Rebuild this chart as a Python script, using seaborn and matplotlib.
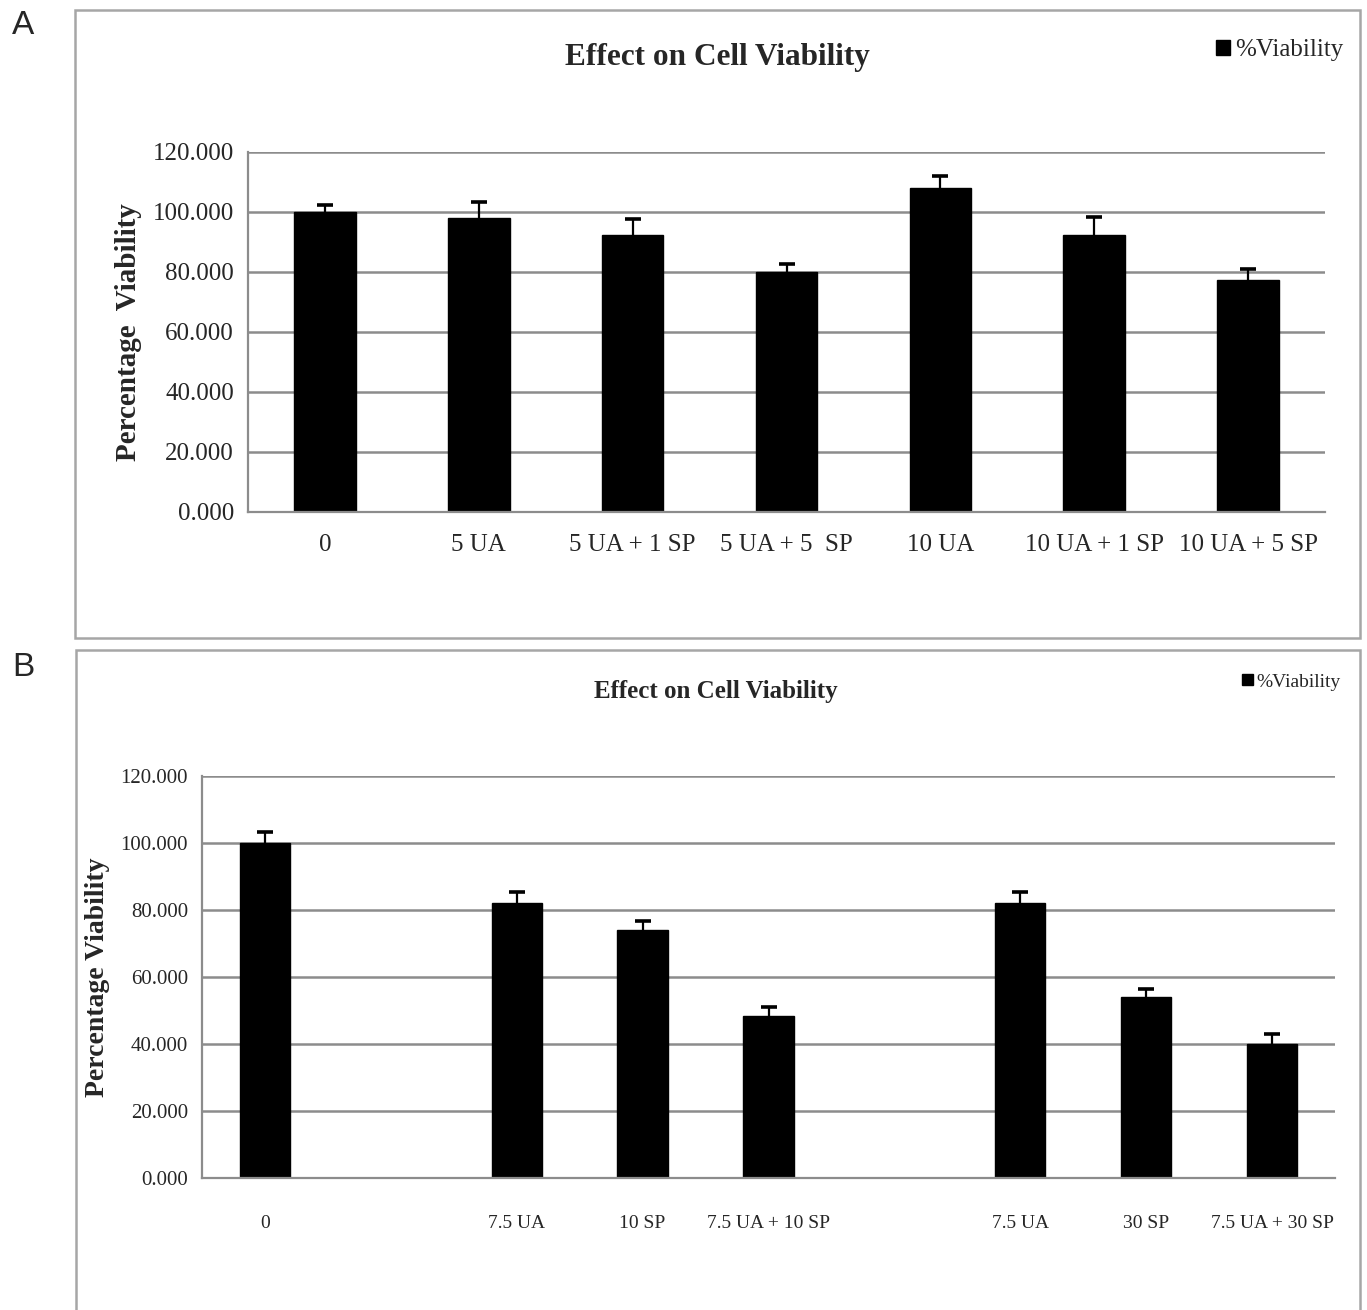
import numpy as np
import pandas as pd
import matplotlib
matplotlib.use("Agg")
import matplotlib.pyplot as plt
from matplotlib.patches import Rectangle, Patch
import seaborn as sns

# Panel A: ursolic acid (UA) and SP combinations
labels_a = ["0", "5 UA", "5 UA + 1 SP", "5 UA + 5  SP", "10 UA", "10 UA + 1 SP", "10 UA + 5 SP"]
viability_a = [100.0, 98.0, 92.3, 79.9, 108.1, 92.3, 77.3]
err_a = [2.5, 5.3, 5.3, 2.7, 3.9, 6.0, 3.8]

# Panel B: 7.5 UA with 10 SP and 30 SP (empty slots separate the groups)
labels_b = ["0", "", "7.5 UA", "10 SP", "7.5 UA + 10 SP", "", "7.5 UA", "30 SP", "7.5 UA + 30 SP"]
viability_b = [100.1, np.nan, 82.2, 74.0, 48.4, np.nan, 82.2, 53.9, 40.0]
err_b = [3.3, 0.0, 3.2, 2.7, 2.6, 0.0, 3.1, 2.5, 3.0]

y_ticks = [0, 20, 40, 60, 80, 100, 120]

sns.set_theme(style="white")
plt.rcParams["font.family"] = ["Liberation Serif", "DejaVu Serif"]

W, H = 1367, 1310
fig = plt.figure(figsize=(W / 100, H / 100), dpi=100)


def fx(px):
    return px / W


def fy(py):
    return 1 - py / H


def draw_panel(rect, labels, values, errs, sizes, ylabel, xpad):
    tick_fs, xlab_fs, ylab_fs = sizes
    ax = fig.add_axes(rect)
    n = len(labels)
    df = pd.DataFrame({"pos": list(range(n)), "value": values})
    sns.barplot(data=df, x="pos", y="value", order=list(range(n)), color="black",
                saturation=1, width=0.4, errorbar=None, ax=ax)
    for p in ax.patches:
        p.set_edgecolor("black")
    ok = [i for i in range(n) if not np.isnan(values[i])]
    # plus-only error bars: cap on top, none at the bar edge
    _, caps, _ = ax.errorbar(ok, [values[i] for i in ok],
                             yerr=[[0] * len(ok), [errs[i] for i in ok]],
                             fmt="none", ecolor="black", elinewidth=1.6, capsize=6,
                             capthick=2.6, zorder=5)
    caps[0].set_visible(False)
    ax.set_ylim(0, 120)
    ax.set_xlim(-0.5, n - 0.5)
    ax.set_yticks(y_ticks)
    ax.set_yticklabels([f"{v:.3f}" for v in y_ticks], fontsize=tick_fs)
    ax.set_xticks(range(n))
    ax.set_xticklabels(labels, fontsize=xlab_fs)
    ax.set_xticks(np.arange(-0.5, n, 1.0), minor=True)
    ax.tick_params(axis="x", which="major", length=0, pad=xpad)
    ax.tick_params(axis="x", which="minor", length=7, width=1.3, color="#8c8c8c", direction="out")
    ax.tick_params(axis="y", length=6, width=1.3, color="#8c8c8c", direction="out", pad=4)
    ax.set_xlabel("")
    ax.set_ylabel(ylabel, fontsize=ylab_fs, fontweight="bold", labelpad=8)
    ax.yaxis.grid(True, color="#8c8c8c", linewidth=1.8)
    ax.set_axisbelow(True)
    for side in ("top", "right"):
        ax.spines[side].set_visible(False)
    for side in ("left", "bottom"):
        ax.spines[side].set_color("#8c8c8c")
        ax.spines[side].set_linewidth(1.6)
    return ax


# Panel frames
fig.patches.append(Rectangle((fx(75), fy(638)), fx(1360) - fx(75), fy(10) - fy(638),
                             transform=fig.transFigure, fill=False, edgecolor="#a6a6a6", linewidth=1.8))
fig.patches.append(Rectangle((fx(76), fy(1320)), fx(1360) - fx(76), fy(650) - fy(1320),
                             transform=fig.transFigure, fill=False, edgecolor="#a6a6a6", linewidth=1.8))

ax_a = draw_panel([fx(248), fy(512), fx(1325) - fx(248), fy(152) - fy(512)],
                  labels_a, viability_a, err_a, (18, 18, 21), "Percentage  Viability", 16)
ax_b = draw_panel([fx(202), fy(1178), fx(1335) - fx(202), fy(776) - fy(1178)],
                  labels_b, viability_b, err_b, (15, 14, 20), "Percentage Viability", 27)

fig.text(fx(717), fy(58), "Effect on Cell Viability", ha="center", va="center",
         fontsize=22.5, fontweight="bold")
fig.text(fx(716), fy(692), "Effect on Cell Viability", ha="center", va="center",
         fontsize=18, fontweight="bold")

for px, py, fs in ((1216, 50, 18), (1242, 682, 14)):
    fig.legend(handles=[Patch(facecolor="black", edgecolor="black")], labels=["%Viability"],
               loc="center left", bbox_to_anchor=(fx(px), fy(py)), frameon=False,
               fontsize=fs, handlelength=0.55, handleheight=0.55, handletextpad=0.2,
               borderpad=0, borderaxespad=0)

fig.text(fx(12), fy(25), "A", ha="left", va="center", fontsize=24, family="Liberation Sans")
fig.text(fx(12), fy(668), "B", ha="left", va="center", fontsize=24, family="Liberation Sans")

fig.savefig("out.png", dpi=100, facecolor="white")
